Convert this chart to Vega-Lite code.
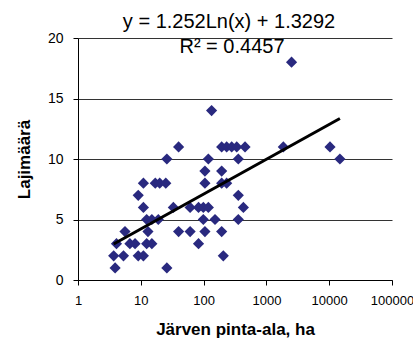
{
  "$schema": "https://vega.github.io/schema/vega-lite/v6.json",
  "width": 314,
  "height": 242,
  "autosize": {"type": "none"},
  "padding": {"left": 78, "top": 38, "right": 21, "bottom": 62},
  "background": "white",
  "config": {
    "font": "Liberation Sans",
    "view": {"stroke": null},
    "axis": {"labelFont": "Liberation Sans", "titleFont": "Liberation Sans", "labelColor": "#000", "titleColor": "#000", "domainColor": "#000", "tickColor": "#000"}
  },
  "datasets": {
    "points": [
      {"area": 3.9, "lajit": 1}, {"area": 26, "lajit": 1},
      {"area": 3.7, "lajit": 2}, {"area": 5.3, "lajit": 2}, {"area": 9.1, "lajit": 2}, {"area": 11, "lajit": 2}, {"area": 206, "lajit": 2},
      {"area": 4.1, "lajit": 3}, {"area": 6.7, "lajit": 3}, {"area": 8.1, "lajit": 3}, {"area": 12.4, "lajit": 3}, {"area": 15, "lajit": 3}, {"area": 83, "lajit": 3},
      {"area": 5.6, "lajit": 4}, {"area": 13, "lajit": 4}, {"area": 40, "lajit": 4}, {"area": 61, "lajit": 4}, {"area": 105, "lajit": 4}, {"area": 194, "lajit": 4},
      {"area": 12.4, "lajit": 5}, {"area": 15, "lajit": 5}, {"area": 19, "lajit": 5}, {"area": 99, "lajit": 5}, {"area": 152, "lajit": 5}, {"area": 357, "lajit": 5},
      {"area": 11, "lajit": 6}, {"area": 33, "lajit": 6}, {"area": 61, "lajit": 6}, {"area": 83, "lajit": 6}, {"area": 99, "lajit": 6}, {"area": 119, "lajit": 6}, {"area": 430, "lajit": 6},
      {"area": 9.1, "lajit": 7}, {"area": 357, "lajit": 7},
      {"area": 11, "lajit": 8}, {"area": 17, "lajit": 8}, {"area": 20, "lajit": 8}, {"area": 25, "lajit": 8}, {"area": 105, "lajit": 8}, {"area": 194, "lajit": 8}, {"area": 233, "lajit": 8},
      {"area": 105, "lajit": 9}, {"area": 194, "lajit": 9},
      {"area": 26, "lajit": 10}, {"area": 119, "lajit": 10}, {"area": 357, "lajit": 10}, {"area": 14800, "lajit": 10},
      {"area": 40, "lajit": 11}, {"area": 194, "lajit": 11}, {"area": 233, "lajit": 11}, {"area": 280, "lajit": 11}, {"area": 337, "lajit": 11}, {"area": 457, "lajit": 11}, {"area": 1860, "lajit": 11}, {"area": 10300, "lajit": 11},
      {"area": 134, "lajit": 14},
      {"area": 2515, "lajit": 18}
    ],
    "trend": [
      {"area": 3.7, "lajit": 2.97},
      {"area": 14800, "lajit": 13.35}
    ],
    "labels": [
      {"area": 254, "lajit": 21.3, "text": "y = 1.252Ln(x) + 1.3292"},
      {"area": 283, "lajit": 19.25, "text": "R² = 0.4457"}
    ]
  },
  "layer": [
    {
      "data": {"name": "points"},
      "mark": {"type": "point", "shape": "diamond", "filled": true, "size": 125, "color": "#29297F", "opacity": 1},
      "encoding": {
        "x": {
          "field": "area", "type": "quantitative",
          "scale": {"type": "log", "domain": [1, 100000], "nice": false},
          "axis": {
            "title": "Järven pinta-ala, ha",
            "values": [1, 10, 100, 1000, 10000, 100000],
            "format": "d",
            "grid": false,
            "labelFontSize": 13,
            "labelPadding": 9,
            "tickSize": 5,
            "titleFontSize": 17,
            "titleFontWeight": "bold",
            "titlePadding": 14,
            "labelFlush": false
          }
        },
        "y": {
          "field": "lajit", "type": "quantitative",
          "scale": {"domain": [0, 20], "nice": false},
          "axis": {
            "title": "Lajimäärä",
            "values": [0, 5, 10, 15, 20],
            "grid": true,
            "gridColor": "#333",
            "gridWidth": 1,
            "gridOpacity": 1,
            "labelFontSize": 14,
            "labelPadding": 10,
            "tickSize": 5,
            "titleFontSize": 17,
            "titleFontWeight": "bold",
            "titlePadding": 14
          }
        }
      }
    },
    {
      "data": {"name": "trend"},
      "mark": {"type": "line", "color": "#000", "strokeWidth": 3},
      "encoding": {
        "x": {"field": "area", "type": "quantitative"},
        "y": {"field": "lajit", "type": "quantitative"}
      }
    },
    {
      "data": {"name": "labels"},
      "mark": {"type": "text", "fontSize": 20, "font": "Liberation Sans", "color": "#000", "align": "center", "baseline": "middle"},
      "encoding": {
        "x": {"field": "area", "type": "quantitative"},
        "y": {"field": "lajit", "type": "quantitative"},
        "text": {"field": "text"}
      }
    }
  ]
}
